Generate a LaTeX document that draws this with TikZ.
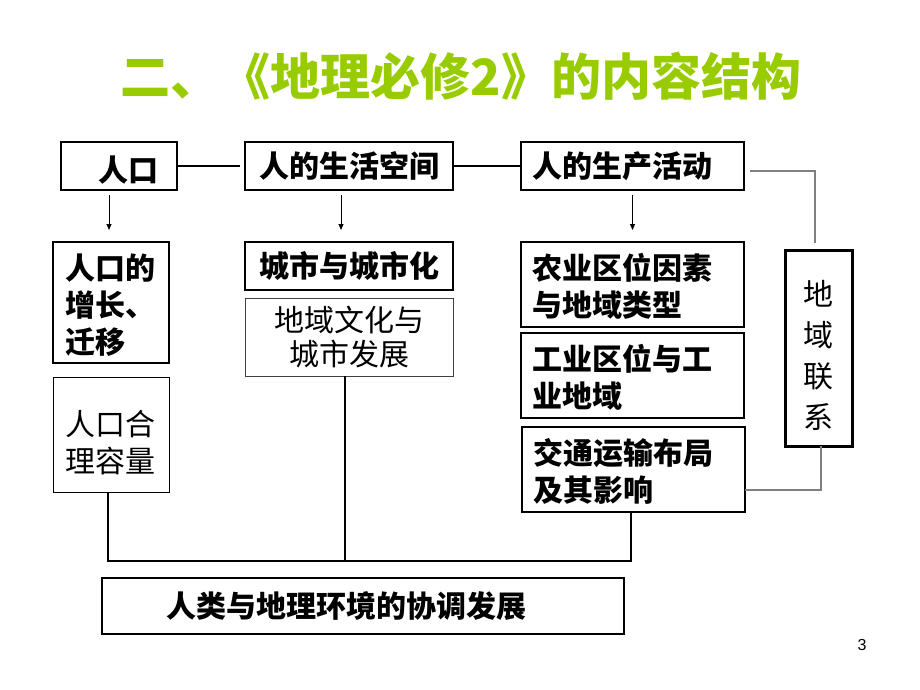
\documentclass[tikz,border=0pt]{standalone}
\usepackage{fontspec}
\setmainfont{Liberation Sans}
\newfontfamily\cjk{Noto Sans CJK SC}
\usetikzlibrary{arrows.meta}
\definecolor{titlegreen}{HTML}{99CC00}
\definecolor{linkgray}{HTML}{808080}
\begin{document}
\begin{tikzpicture}[x=1pt,y=-1pt,
  box/.style={draw=black, line width=1.5pt, inner ysep=0pt, outer sep=0pt,
    font=\cjk\bfseries\fontsize{30}{37}\selectfont, text=black},
  thinbox/.style={box, line width=1pt, font=\cjk\fontsize{30}{37}\selectfont},
  conn/.style={draw=black, line width=1.5pt},
  arr/.style={draw=black, line width=1pt, -{Triangle[length=6pt,width=5pt]}},
  graylink/.style={draw=linkgray, line width=1.2pt},
]
\useasboundingbox (0,0) rectangle (920,690);

% title
\node[font=\cjk\bfseries\fontsize{50}{50}\selectfont, text=titlegreen] (title) at (461,76) {二、《地理必修2》的内容结构};

% top row
\node[box, minimum width=116, minimum height=48, text width=78, inner xsep=19, align=right] (renkou) at (119,166) {\rule{0pt}{33pt}人口};
\node[box, minimum width=208, minimum height=48, text width=196, inner xsep=6, align=center] (shenghuo) at (349,166) {人的生活空间};
\node[box, minimum width=223, minimum height=48, text width=201, inner xsep=11, align=left] (shengchan) at (632.5,166) {人的生产活动};

% column 1
\node[box, line width=2pt, minimum width=116, minimum height=121, text width=92, inner xsep=12, align=left] (zengzhang) at (111,302.5) {\rule{0pt}{31pt}人口的\\增长、\\迁移};
\node[thinbox, minimum width=116, minimum height=115, text width=92, inner xsep=12, align=left] (heli) at (111,434.5) {\rule{0pt}{42pt}人口合\\理容量};

% column 2
\node[box, minimum width=208, minimum height=48, text width=196, inner xsep=6, align=center] (chengshi) at (349,266) {城市与城市化};
\node[thinbox, draw=black!75, minimum width=208, minimum height=78, text width=196, inner xsep=6, align=center, font=\cjk\fontsize{30}{34}\selectfont] (wenhua) at (349,337) {地域文化与\\城市发展};

% column 3
\node[box, minimum width=223, minimum height=85, text width=201, inner xsep=11, align=left] (nongye) at (632.5,284.5) {\rule{0pt}{30pt}农业区位因素\\与地域类型};
\node[box, minimum width=223, minimum height=85, text width=201, inner xsep=11, align=left] (gongye) at (632.5,375.5) {\rule{0pt}{30pt}工业区位与工\\业地域};
\node[box, minimum width=223, minimum height=85, text width=201, inner xsep=11, align=left] (jiaotong) at (633.5,469.5) {\rule{0pt}{30pt}交通运输布局\\及其影响};

% region link
\node[box, line width=3pt, minimum width=67, minimum height=196, text width=40, inner xsep=13, align=center, font=\cjk\fontsize{30}{41}\selectfont] (diyu) at (818.5,348) {\rule{0pt}{40pt}地\\域\\联\\系};

% bottom
\node[box, line width=2pt, minimum width=522, minimum height=56, text width=394, inner xsep=64, align=left] (xietiao) at (363,606) {人类与地理环境的协调发展};

% page number
\node[font=\fontsize{16}{16}\selectfont] (pagenum) at (862,645) {3};

% top connectors
\draw[conn, line width=1.2pt, shorten >=5pt] (renkou.east) -- (shenghuo.west);
\draw[conn, line width=1.2pt] (shenghuo.east) -- (shengchan.west);

% arrows
\draw[arr, shorten <=5pt, shorten >=12pt] ([xshift=-2pt]zengzhang.north |- renkou.south) -- ([xshift=-2pt]zengzhang.north);
\draw[arr, shorten <=5pt, shorten >=12pt] ([xshift=-8pt]shenghuo.south) -- ([xshift=-8pt]chengshi.north);
\draw[arr, shorten <=5pt, shorten >=12pt] (shengchan.south) -- (nongye.north);

% bottom connectors
\coordinate (jl) at (108,561);
\coordinate (jr) at (631,561);
\draw[conn] ([xshift=-3pt]heli.south) -- (jl) -- (jr) -- ([xshift=-2.5pt]jiaotong.south);
\draw[conn] ([xshift=-4pt]wenhua.south) -- ([xshift=-4pt]wenhua.south |- jl);

% gray links
\draw[graylink] ([xshift=6pt,yshift=-5pt]shengchan.east) -| ([xshift=-3.5pt,yshift=7pt]diyu.north);
\draw[graylink] ([xshift=2.5pt]diyu.south) |- ([yshift=-20.5pt]jiaotong.east);
\end{tikzpicture}
\end{document}
